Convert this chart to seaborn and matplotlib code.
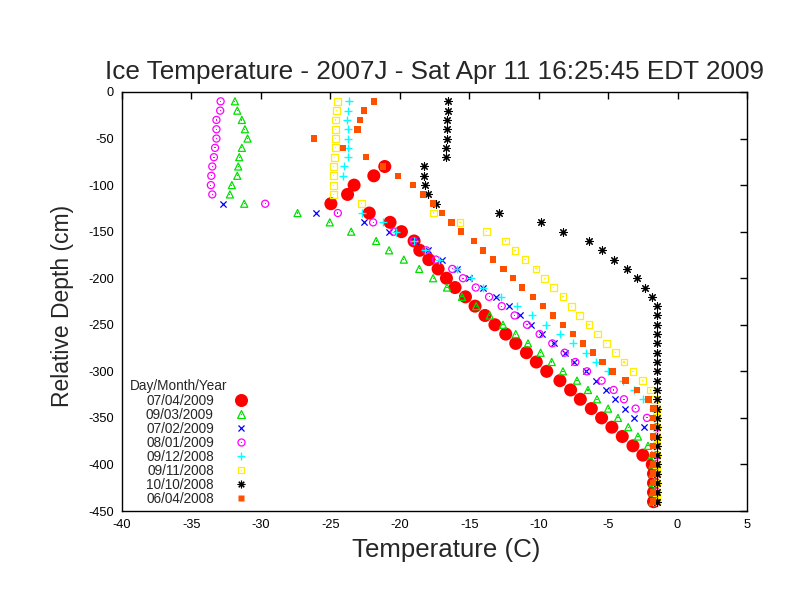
import numpy as np
import pandas as pd
import matplotlib
matplotlib.use("Agg")
import matplotlib.pyplot as plt
import seaborn as sns
from matplotlib.lines import Line2D

# ---------------- data ----------------
depth_cm = [-10, -20, -30, -40, -50, -60, -70, -80, -90, -100,
            -110, -120, -130, -140, -150, -160, -170, -180, -190, -200,
            -210, -220, -230, -240, -250, -260, -270, -280, -290, -300,
            -310, -320, -330, -340, -350, -360, -370, -380, -390, -400,
            -410, -420, -430, -440]

t_07_04_2009 = [None, None, None, None, None, None, None, -21.08, -21.87, -23.29,
                -23.76, -24.96, -22.2, -20.7, -19.88, -18.97, -18.56, -17.91, -17.24, -16.64,
                -16.02, -15.27, -14.58, -13.87, -13.15, -12.37, -11.65, -10.88, -10.17, -9.42,
                -8.47, -7.70, -7.00, -6.21, -5.47, -4.73, -3.98, -3.21, -2.50, -1.82,
                -1.73, -1.73, -1.73, -1.73]

t_09_03_2009 = [-31.87, -31.70, -31.37, -31.15, -30.96, -31.37, -31.56, -31.63, -31.70, -32.09,
                -32.23, -31.20, -27.36, -25.04, -23.50, -21.70, -20.77, -19.71, -18.60, -17.60,
                -16.60, -15.52, -14.50, -13.52, -12.57, -11.65, -10.77, -9.86, -9.06, -8.25,
                -7.24, -6.45, -5.80, -5.00, -4.29, -3.55, -2.85, -2.13, -1.85, -1.80,
                -1.80, -1.80, -1.80, -1.80]

t_07_02_2009 = [None, None, None, None, None, None, None, None, None, None,
                None, -32.73, -26.02, -22.59, -20.77, -18.92, -17.96, -16.95, -15.90, -15.00,
                -14.00, -13.04, -12.15, -11.32, -10.53, -9.73, -8.92, -8.13, -7.48, -6.62,
                -5.90, -5.18, -4.53, -3.81, -3.16, -2.45, -1.73, -1.55, -1.55, -1.55,
                -1.55, -1.55, -1.55, -1.55]

t_08_01_2009 = [-32.90, -32.93, -33.20, -33.20, -33.20, -33.30, -33.38, -33.50, -33.57, -33.60,
                -33.50, -29.69, -24.46, -21.92, -20.41, -19.00, -18.10, -17.40, -16.22, -15.45,
                -14.53, -13.57, -12.66, -11.73, -10.84, -9.93, -9.02, -8.13, -7.36, -6.52,
                -5.47, -4.60, -3.86, -3.02, -2.20, -1.50, -1.50, -1.50, -1.50, -1.50,
                -1.50, -1.50, -1.50, -1.50]

t_09_12_2008 = [-23.67, -23.72, -23.79, -23.76, -23.76, -23.72, -23.76, -24.00, -24.08, None,
                None, None, -22.73, -21.20, -20.24, -18.95, -18.16, -17.19, -15.90, -14.84,
                -14.00, -12.70, -11.56, -10.48, -9.44, -8.46, -7.50, -6.57, -5.85, -5.01,
                -3.93, -3.17, -2.50, -1.80, -1.70, -1.70, -1.70, -1.70, -1.70, -1.70,
                -1.70, -1.70, -1.70, -1.70]

t_09_11_2008 = [-24.48, -24.56, -24.65, -24.60, -24.60, -24.65, -24.70, -24.75, -24.75, -24.77,
                -24.75, -22.78, -17.60, -15.66, -13.76, -12.40, -11.70, -10.98, -10.19, -9.57,
                -8.92, -8.25, -7.63, -7.05, -6.38, -5.76, -5.11, -4.46, -3.86, -3.21,
                -2.52, -1.94, -1.65, -1.50, -1.50, -1.50, -1.50, -1.50, -1.50, -1.50,
                -1.50, -1.50, -1.50, -1.50]

t_10_10_2008 = [-16.51, -16.55, -16.62, -16.57, -16.57, -16.65, -16.65, -18.27, -18.25, -18.22,
                -17.96, -17.37, -12.88, -9.86, -8.23, -6.38, -5.47, -4.56, -3.62, -2.92,
                -2.32, -1.82, -1.51, -1.50, -1.50, -1.50, -1.50, -1.50, -1.50, -1.50,
                -1.50, -1.50, -1.50, -1.50, -1.50, -1.50, -1.50, -1.50, -1.50, -1.50,
                -1.50, -1.50, -1.50, -1.50]

t_06_04_2008 = [-21.84, -22.56, -22.85, -23.04, -26.16, -24.08, -22.42, -21.20, -20.12, -19.04,
                -18.32, -17.60, -16.96, -16.26, -15.60, -14.67, -14.00, -13.29, -12.54, -11.85,
                -11.20, -10.41, -9.69, -8.97, -8.25, -7.53, -6.81, -6.09, -5.42, -4.70,
                -3.76, -2.92, -2.10, -1.73, -1.78, -1.78, -1.78, -1.78, -1.78, -1.78,
                -1.78, -1.78, -1.78, -1.78]

series_labels = ["07/04/2009", "09/03/2009", "07/02/2009", "08/01/2009",
                 "09/12/2008", "09/11/2008", "10/10/2008", "06/04/2008"]
series_values = [t_07_04_2009, t_09_03_2009, t_07_02_2009, t_08_01_2009,
                 t_09_12_2008, t_09_11_2008, t_10_10_2008, t_06_04_2008]

x_ticks = [-40, -35, -30, -25, -20, -15, -10, -5, 0, 5]
y_ticks = [0, -50, -100, -150, -200, -250, -300, -350, -400, -450]

# ---------------- styles ----------------
styles = [
    dict(marker="o", s=88, color="#ff0000", hollow=False, lw=0.0),
    dict(marker="^", s=26, color="#00e000", hollow=True, lw=0.9),
    dict(marker="x", s=20, color="#0000ff", hollow=False, lw=0.9),
    dict(marker="o", s=26, color="#ff00ff", hollow=True, lw=0.9),
    dict(marker="+", s=30, color="#00ffff", hollow=False, lw=1.0),
    dict(marker="s", s=24, color="#ffee00", hollow=True, lw=0.9),
    dict(marker=(8, 2, 0), s=30, color="#000000", hollow=False, lw=0.8),
    dict(marker="s", s=22, color="#ff5000", hollow=False, lw=0.0),
]

rows = []
for lab, vals in zip(series_labels, series_values):
    for d, t in zip(depth_cm, vals):
        if t is not None:
            rows.append((lab, t, d))
df = pd.DataFrame(rows, columns=["date", "temp", "depth"])

sns.set_theme(style="white")
plt.rcParams["font.family"] = ["Liberation Sans", "DejaVu Sans"]

fig = plt.figure(figsize=(7.92, 6.12), dpi=100)
ax = fig.add_axes([122 / 792, 1 - 511 / 612, 625 / 792, 419 / 612])

handles = []
for lab, st in zip(series_labels, styles):
    sub = df[df["date"] == lab]
    col = st["color"]
    if st["hollow"]:
        sns.scatterplot(data=sub, x="temp", y="depth", ax=ax, marker=st["marker"],
                        s=st["s"], color=col, facecolor="none", edgecolor=col,
                        linewidth=st["lw"], legend=False, clip_on=False)
        sns.scatterplot(data=sub, x="temp", y="depth", ax=ax, marker="s",
                        s=0.7, color=col, edgecolor="none", linewidth=0,
                        legend=False, clip_on=False)
        h = (Line2D([], [], ls="none", marker=st["marker"], ms=np.sqrt(st["s"]),
                    mfc="none", mec=col, mew=st["lw"]),
             Line2D([], [], ls="none", marker="s", ms=0.85, mfc=col, mec="none"))
    elif st["lw"] == 0.0:
        sns.scatterplot(data=sub, x="temp", y="depth", ax=ax, marker=st["marker"],
                        s=st["s"], color=col, edgecolor="none", linewidth=0,
                        legend=False, clip_on=False)
        h = Line2D([], [], ls="none", marker=st["marker"], ms=np.sqrt(st["s"]),
                   mfc=col, mec="none")
    else:
        sns.scatterplot(data=sub, x="temp", y="depth", ax=ax, marker=st["marker"],
                        s=st["s"], color=col, linewidth=st["lw"], legend=False,
                        clip_on=False)
        h = Line2D([], [], ls="none", marker=st["marker"], ms=np.sqrt(st["s"]),
                   color=col, mew=st["lw"])
    handles.append(h)

ax.set_xlim(-40, 5)
ax.set_ylim(-450, 0)
ax.set_xticks(x_ticks)
ax.set_yticks(y_ticks)
ax.set_xticklabels([str(v) for v in x_ticks])
ax.set_yticklabels([str(v) for v in y_ticks])
ax.tick_params(direction="in", length=5, width=1, top=True, right=True,
               labelsize=9.2, colors="black", pad=6)
for sp in ax.spines.values():
    sp.set_visible(True)
    sp.set_color("black")
    sp.set_linewidth(1)

ax.set_xlabel("Temperature (C)", fontsize=18.6, labelpad=2)
ax.xaxis.set_label_coords(0.518, -0.065)
ax.set_ylabel("Relative Depth (cm)", fontsize=16.5, labelpad=10)
ax.yaxis.set_label_coords(-0.077, 0.49)
ax.set_title("Ice Temperature - 2007J - Sat Apr 11 16:25:45 EDT 2009",
             fontsize=18.8, pad=9)

# legend: header text + entries (labels then markers, as in the reference)
ax.text(8 / 625, (511 - 386) / 419, "Day/Month/Year", transform=ax.transAxes,
        ha="left", va="center", fontsize=9.8)
leg = ax.legend(handles, series_labels,
                loc="lower left", bbox_to_anchor=(24 / 625, 5 / 419),
                bbox_transform=ax.transAxes, frameon=False,
                markerfirst=False, fontsize=9.8,
                handlelength=1.0, handletextpad=1.5, labelspacing=0.0,
                borderpad=0.0, borderaxespad=0.0)

fig.savefig("out.png", dpi=100, facecolor="white")
